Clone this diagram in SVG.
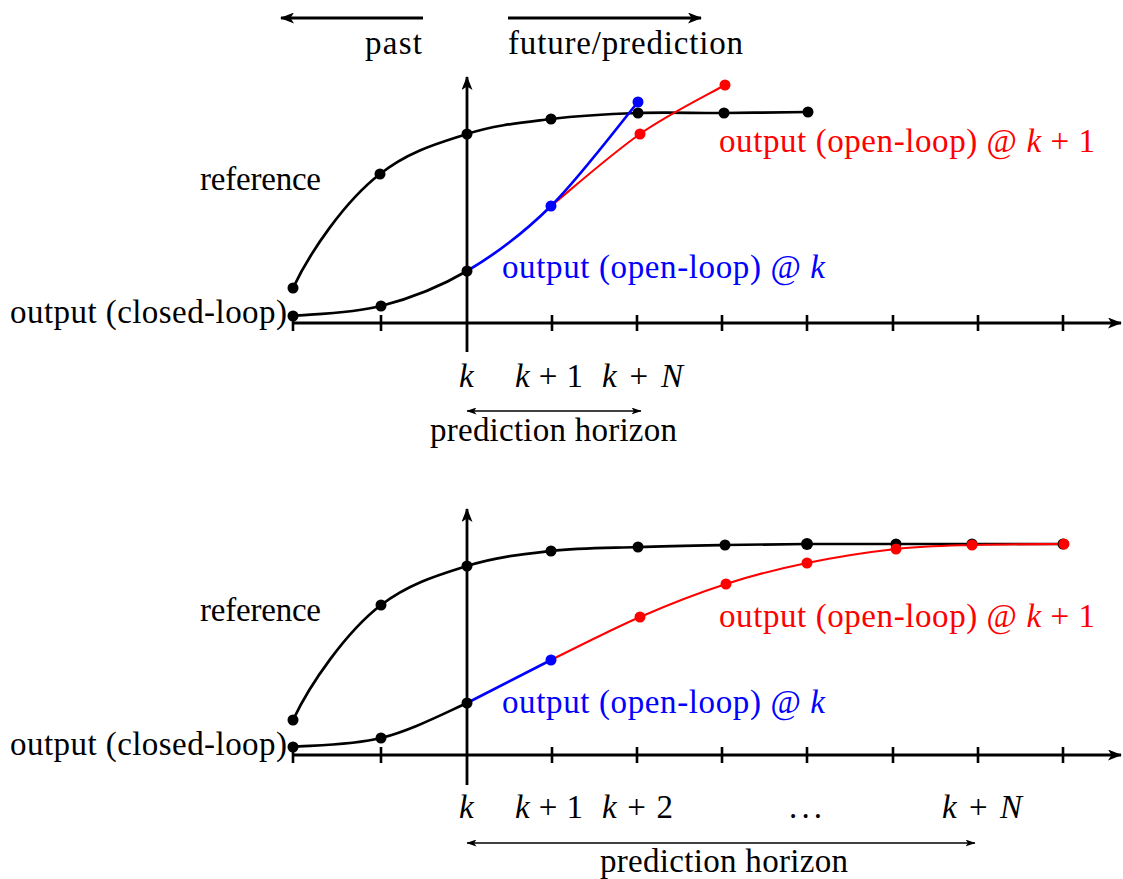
<svg xmlns="http://www.w3.org/2000/svg" width="1123" height="879" viewBox="0 0 1123 879">
<style>
text{font-family:"Liberation Serif","Times New Roman",serif;font-size:33px;fill:#000}
.b{fill:#0000ff}.r{fill:#ff0000}
.i{font-style:italic}
.ax{stroke:#000;stroke-width:2.8;fill:none}
.tk{stroke:#000;stroke-width:2.6}
.cb{stroke:#000;stroke-width:2.7;fill:none}
.cbl{stroke:#0000ff;stroke-width:2.7;fill:none}
.cr{stroke:#ff0000;stroke-width:2.1;fill:none}
.hz{stroke:#000;stroke-width:1.3;fill:none}
.db{fill:#000}.dbl{fill:#0000ff}.dr{fill:#ff0000}
</style>
<defs>
<marker id="ah" viewBox="0 0 14 11" refX="13" refY="5.5" markerWidth="14" markerHeight="11" markerUnits="userSpaceOnUse" orient="auto-start-reverse">
<path d="M0,0 L14,5.5 L0,11 L3.5,5.5 z" fill="#000"/>
</marker>
<marker id="ah2" viewBox="0 0 10 7" refX="9.5" refY="3.5" markerWidth="10" markerHeight="7" markerUnits="userSpaceOnUse" orient="auto-start-reverse">
<path d="M0,0 L10,3.5 L0,7 L2.5,3.5 z" fill="#000"/>
</marker>
</defs>

<g id="header">
<line class="ax" x1="423" y1="18" x2="281" y2="18" marker-end="url(#ah)"/>
<line class="ax" x1="508" y1="18" x2="701" y2="18" marker-end="url(#ah)"/>
<text x="365" y="54" textLength="57">past</text>
<text x="508" y="54" textLength="235">future/prediction</text>
</g>

<g id="top-axes">
<line class="ax" x1="293" y1="323" x2="1121" y2="323" marker-end="url(#ah)"/>
<line class="ax" x1="467" y1="352" x2="467" y2="77" marker-end="url(#ah)"/>
<path class="tk" d="M293,315V331M381,315V331M552,315V331M637,315V331M722,315V331M807,315V331M893,315V331M978,315V331M1063,315V331"/>
</g>

<g id="top-connectors">
<path class="cb" d="M293,288 C310,252 345,201 380,174 C409,151 438.5,143.2 467,134 C495.5,124.8 522.5,122.5 551,119 C579.5,115.5 609.2,114 638,113 C666.8,112 695.7,113.2 724,113 C752.3,112.8 794,112.2 808,112"/>
<path class="cb" d="M293,316 C307.7,314.3 352,313.5 381,306 C410,298.5 438.7,287.7 467,271"/>
<path class="cr" d="M551,206 C565.8,194 611,154.2 640,134 C669,113.8 710.8,93.2 725,85"/>
<path class="cbl" d="M467,271 C495.3,254.3 522.5,234.2 551,206 C579.5,177.8 623.5,119.3 638,102"/>
</g>

<g id="top-dots">
<circle class="db" cx="293" cy="288" r="5.5"/>
<circle class="db" cx="380" cy="174" r="5.5"/>
<circle class="db" cx="467" cy="134" r="5.5"/>
<circle class="db" cx="551" cy="119" r="5.5"/>
<circle class="db" cx="638" cy="113" r="5.5"/>
<circle class="db" cx="724" cy="113" r="5.5"/>
<circle class="db" cx="808" cy="112" r="5.5"/>
<circle class="db" cx="293" cy="316" r="5.5"/>
<circle class="db" cx="381" cy="306" r="5.5"/>
<circle class="db" cx="467" cy="271" r="5.5"/>
<circle class="dr" cx="640" cy="134" r="5.5"/>
<circle class="dr" cx="725" cy="85" r="5.5"/>
<circle class="dbl" cx="551" cy="206" r="5.5"/>
<circle class="dbl" cx="638" cy="102" r="5.5"/>
</g>

<g id="top-labels">
<text x="200" y="190" textLength="121">reference</text>
<text x="10" y="323" textLength="277">output (closed-loop)</text>
<text class="b" x="502" y="278" textLength="323">output (open-loop) @ <tspan class="i">k</tspan></text>
<text class="r" x="719" y="152" textLength="376">output (open-loop) @ <tspan class="i">k</tspan> + 1</text>
<text class="i" x="459" y="387">k</text>
<text x="515" y="387" textLength="68"><tspan class="i">k</tspan> + 1</text>
<text x="602" y="387" textLength="81"><tspan class="i">k</tspan> + <tspan class="i">N</tspan></text>
<line class="hz" x1="467" y1="411" x2="641" y2="411" marker-start="url(#ah2)" marker-end="url(#ah2)"/>
<text x="430" y="441" textLength="247">prediction horizon</text>
</g>

<g id="bottom-axes">
<line class="ax" x1="293" y1="755" x2="1121" y2="755" marker-end="url(#ah)"/>
<line class="ax" x1="467" y1="785" x2="467" y2="509" marker-end="url(#ah)"/>
<path class="tk" d="M293,747V763M381,747V763M552,747V763M637,747V763M722,747V763M807,747V763M893,747V763M978,747V763M1063,747V763"/>
</g>

<g id="bottom-connectors">
<path class="cb" d="M293,720 C310,684 346,632 381,605 C410,583 438.7,575 467,566 C495.3,557 522.5,554.2 551,551 C579.5,547.8 609,548 638,547 C667,546 696.8,545.5 725,545 L807,544 L896,544 L972,544 L1063,544"/>
<path class="cb" d="M293,747 C307.7,745.5 352,745.3 381,738 C410,730.7 438.7,716 467,703"/>
<path class="cr" d="M551,660 C565.8,652.8 610.8,629.7 640,617 C669.2,604.3 698.2,593 726,584 C753.8,575 778.7,568.8 807,563 C835.3,557.2 868.5,552 896,549 C923.5,546 944,545.8 972,545 C1000,544.2 1048.7,544.2 1064,544"/>
<path class="cbl" d="M467,703 L551,660"/>
</g>

<g id="bottom-dots">
<circle class="db" cx="293" cy="720" r="5.5"/>
<circle class="db" cx="381" cy="605" r="5.5"/>
<circle class="db" cx="467" cy="566" r="5.5"/>
<circle class="db" cx="551" cy="551" r="5.5"/>
<circle class="db" cx="638" cy="547" r="5.5"/>
<circle class="db" cx="725" cy="545" r="5.5"/>
<circle class="db" cx="807" cy="544" r="6"/>
<circle class="db" cx="896" cy="544" r="5.5"/>
<circle class="db" cx="972" cy="544" r="5.5"/>
<circle class="db" cx="1063" cy="544" r="5.5"/>
<circle class="db" cx="293" cy="747" r="5.5"/>
<circle class="db" cx="381" cy="738" r="5.5"/>
<circle class="db" cx="467" cy="703" r="5.5"/>
<circle class="dr" cx="640" cy="617" r="5.5"/>
<circle class="dr" cx="726" cy="584" r="5.5"/>
<circle class="dr" cx="807" cy="563" r="5.5"/>
<circle class="dr" cx="896" cy="549" r="5.5"/>
<circle class="dr" cx="972" cy="545" r="5.5"/>
<circle class="dr" cx="1064" cy="544" r="5.5"/>
<circle class="dbl" cx="551" cy="660" r="5.5"/>
</g>

<g id="bottom-labels">
<text x="200" y="621" textLength="121">reference</text>
<text x="10" y="755" textLength="277">output (closed-loop)</text>
<text class="b" x="502" y="713" textLength="323">output (open-loop) @ <tspan class="i">k</tspan></text>
<text class="r" x="719" y="627" textLength="376">output (open-loop) @ <tspan class="i">k</tspan> + 1</text>
<text class="i" x="459" y="818">k</text>
<text x="515" y="818" textLength="68"><tspan class="i">k</tspan> + 1</text>
<text x="602" y="818" textLength="71"><tspan class="i">k</tspan> + 2</text>
<text x="789" y="818" textLength="33">. . .</text>
<text x="942" y="818" textLength="80"><tspan class="i">k</tspan> + <tspan class="i">N</tspan></text>
<line class="hz" x1="467" y1="843" x2="975" y2="843" marker-start="url(#ah2)" marker-end="url(#ah2)"/>
<text x="600" y="872" textLength="248">prediction horizon</text>
</g>
</svg>
